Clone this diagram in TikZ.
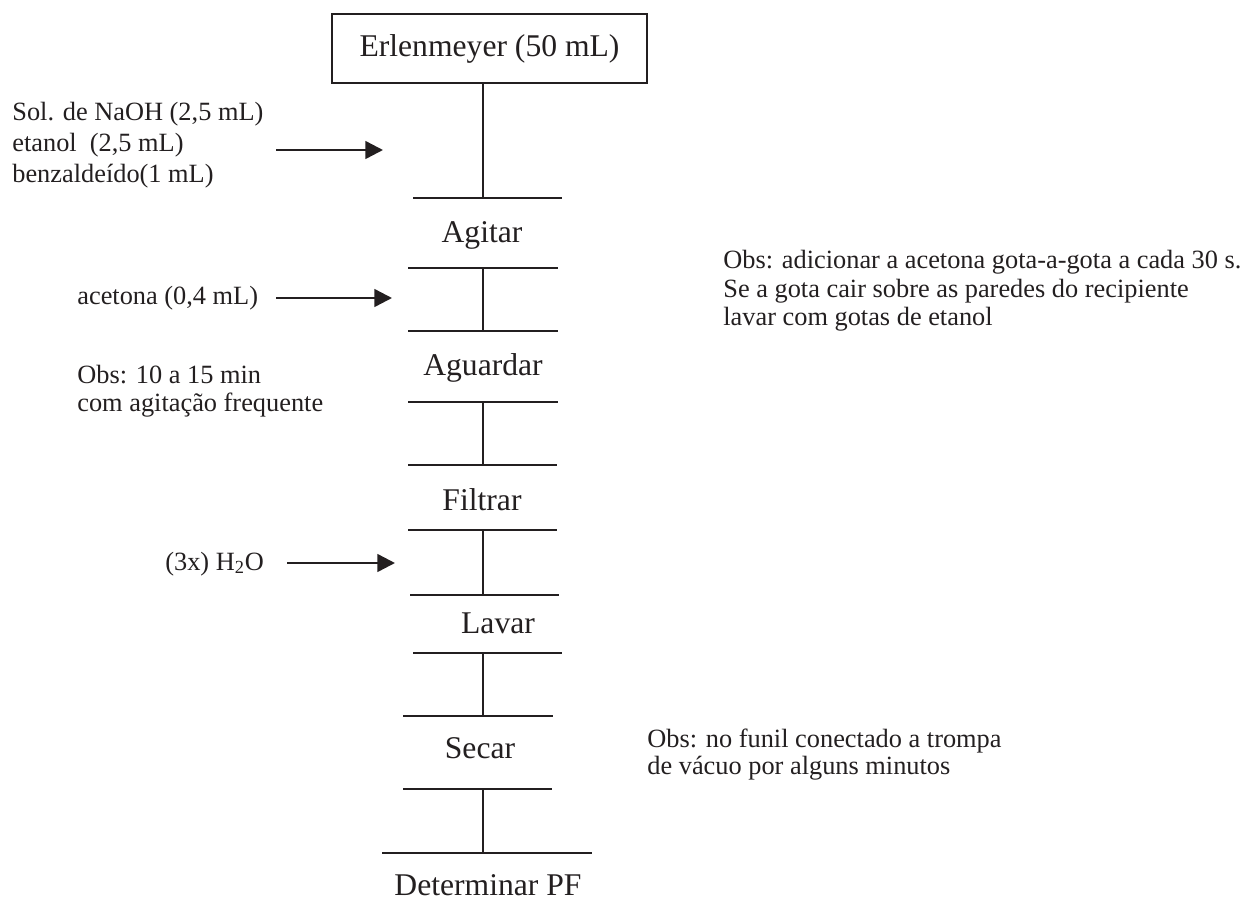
\documentclass[tikz,border=0pt]{standalone}
\usepackage{fontspec}
\setmainfont{Liberation Serif}
\usetikzlibrary{arrows.meta}
\definecolor{ink}{RGB}{35,31,32}
\begin{document}
\begin{tikzpicture}[x=0.02cm,y=-0.02cm,
  every node/.style={inner sep=0pt, text=ink},
  steplabel/.style={font=\fontsize{18}{21}\selectfont, anchor=base},
  note/.style={font=\fontsize{15}{17}\selectfont, anchor=base west},
  bar/.style={draw=ink, line width=0.9pt},
  link/.style={draw=ink, line width=0.9pt},
  feed/.style={draw=ink, line width=1.4pt, -{Triangle[length=10pt,width=10pt]}}]
\useasboundingbox (0,0) rectangle (1248,920);

% starting vessel
\node[draw=ink, line width=0.7pt, minimum width=6.3cm, minimum height=1.38cm,
      font=\fontsize{18}{21}\selectfont] (box) at (489.5,48.5) {Erlenmeyer (50 mL)};

% bar ends (left, centre on the spine, right)
\foreach \n/\y/\l/\r in {1/198/413/562, 2/268/408/558, 3/331/408/558,
                         4/402/408/558, 5/465/408/557, 6/530/408/557,
                         7/595/410/559, 8/653/413/562, 9/716/403/553,
                         10/789/403/552, 11/853/382/592}{
  \coordinate (b\n l) at (\l,\y);
  \coordinate (b\n c) at (483,\y);
  \coordinate (b\n r) at (\r,\y);
  \draw[bar] (b\n l) -- (b\n r);
}

% spine segments between steps
\draw[link] (b1c |- box.south) -- (b1c);
\draw[link] (b2c) -- (b3c);
\draw[link] (b4c) -- (b5c);
\draw[link] (b6c) -- (b7c);
\draw[link] (b8c) -- (b9c);
\draw[link] (b10c) -- (b11c);

% step names
\node[steplabel] (agitar)   at (482,242) {Agitar};
\node[steplabel] (aguardar) at (483,375) {Aguardar};
\node[steplabel] (filtrar)  at (482,510) {Filtrar};
\node[steplabel] (lavar)    at (498,633) {Lavar};
\node[steplabel] (secar)    at (480,758) {Secar};
\node[steplabel] (pf)       at (488,895) {Determinar PF};

% reagents added to the flask
\node[note] (r1) at (12,120) {Sol. de NaOH (2,5 mL)};
\node[note] (r2) at (12,151) {etanol\ \ (2,5 mL)};
\node[note] (r3) at (12,182) {benzaldeído(1 mL)};
\coordinate (a1s) at (276,150);
\coordinate (a1e) at (383,150);
\draw[feed] (a1s) -- (a1e);

% acetone addition
\node[note] (acet) at (77,304) {acetona (0,4 mL)};
\coordinate (a2s) at (276,298);
\coordinate (a2e) at (392,298);
\draw[feed] (a2s) -- (a2e);

\node[note] (obs1a) at (77,383) {Obs: 10 a 15 min};
\node[note] (obs1b) at (77,411) {com agitação frequente};

% washing water
\node[note] (agua) at (165,570) {(3x) H\textsubscript{2}O};
\coordinate (a3s) at (287,563);
\coordinate (a3e) at (395,563);
\draw[feed] (a3s) -- (a3e);

% remarks on the right
\node[note] (obs2a) at (723,268) {Obs: adicionar a acetona gota-a-gota a cada 30 s.};
\node[note] (obs2b) at (723,297) {Se a gota cair sobre as paredes do recipiente};
\node[note] (obs2c) at (723,325) {lavar com gotas de etanol};

\node[note] (obs3a) at (647,747) {Obs: no funil conectado a trompa};
\node[note] (obs3b) at (647,774) {de vácuo por alguns minutos};
\end{tikzpicture}
\end{document}
